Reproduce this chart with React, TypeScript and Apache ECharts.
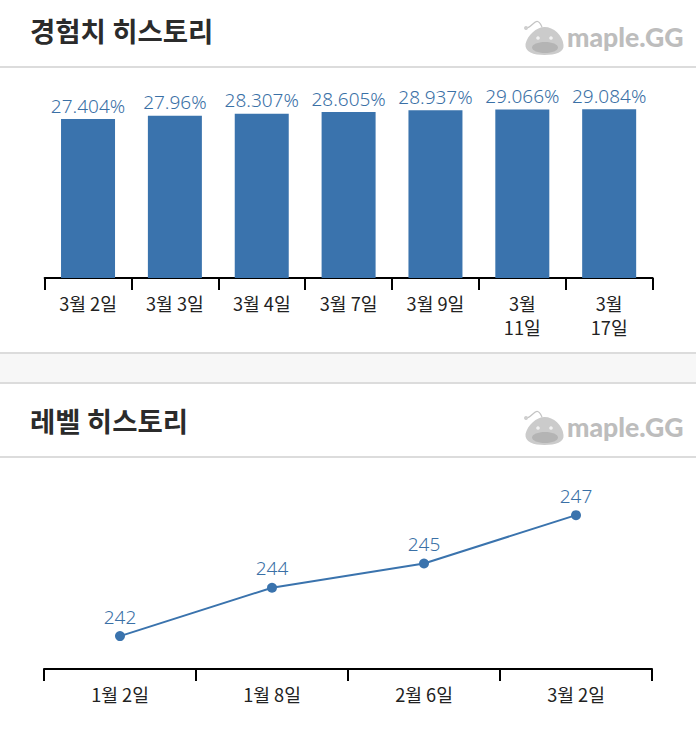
import React, { useEffect, useRef } from "react";
import * as echarts from "echarts";

const expCategories = ["3월 2일", "3월 3일", "3월 4일", "3월 7일", "3월 9일", "3월\n11일", "3월\n17일"];
const expValues = [27.404, 27.96, 28.307, 28.605, 28.937, 29.066, 29.084];
const levelCategories = ["1월 2일", "1월 8일", "2월 6일", "3월 2일"];
const levelValues = [242, 244, 245, 247];
const titles = ["경험치 히스토리", "레벨 히스토리"];
const logoText = "maple.GG";

echarts.graphic.registerShape(
  "slimeBody",
  echarts.graphic.extendPath(
    "M 0 18 C 2 9 11 1 19 1 C 28 1 37 9 38 19 C 39 26 30 29 19 29 C 8 29 -1 26 0 18 Z",
    {}
  )
);

const BLUE = "#3a73ad";
const LABEL_BLUE = "#3a70a6";
const LINE_GREY = "#dcdcdc";

function logo(dy: number) {
  return {
    type: "group",
    x: 0,
    y: dy,
    children: [
      { type: "slimeBody", x: 525.5, y: 26, style: { fill: "#cbcbcb" } },
      { type: "ellipse", shape: { cx: 545, cy: 47.5, rx: 13, ry: 5.5 }, style: { fill: "#b4b4b4" } },
      { type: "circle", shape: { cx: 538, cy: 38, r: 1.8 }, style: { fill: "#f2f2f2" } },
      { type: "circle", shape: { cx: 551, cy: 38, r: 1.8 }, style: { fill: "#f2f2f2" } },
      {
        type: "bezierCurve",
        shape: { x1: 526, y1: 28, x2: 542, y2: 27, cpx1: 533, cpy1: 28, cpx2: 536, cpy2: 14 },
        style: { stroke: "#c4c4c4", lineWidth: 1.2, fill: "none" },
      },
      { type: "circle", shape: { cx: 526, cy: 28, r: 2 }, style: { fill: "#cfcfcf" } },
      {
        type: "text",
        x: 567,
        y: 23,
        style: { text: logoText, fill: "#bdbdbd", font: '900 26.6px "Lato"' },
      },
    ],
  };
}

function title(text: string, y: number) {
  return {
    type: "text",
    x: 30,
    y,
    style: { text, fill: "#2b2b2b", font: '700 27.5px "Noto Sans CJK KR"' },
  };
}

function hr(y: number) {
  return {
    type: "rect",
    shape: { x: 0, y, width: 696, height: 2 },
    style: { fill: LINE_GREY },
  };
}

const axisCommon = {
  type: "category" as const,
  axisLine: { lineStyle: { color: "#000", width: 2 } },
  axisTick: { show: true, alignWithLabel: false, length: 12, lineStyle: { color: "#000", width: 2 } },
  axisLabel: {
    color: "#222",
    fontSize: 18.2,
    lineHeight: 24,
    margin: 13,
    interval: 0,
    fontFamily: '"Noto Sans CJK KR"',
    hideOverlap: false,
  },
};

export default function App() {
  const ref = useRef<HTMLDivElement>(null);
  useEffect(() => {
    const chart = echarts.init(ref.current!, null, { renderer: "svg" });
    chart.setOption({
      animation: false,
      backgroundColor: "#ffffff",
      grid: [
        { left: 44.6, width: 608, top: 69.2, height: 208.8 },
        { left: 44, width: 608, top: 459, height: 210 },
      ],
      xAxis: [
        { ...axisCommon, gridIndex: 0, data: expCategories },
        { ...axisCommon, gridIndex: 1, data: levelCategories },
      ],
      yAxis: [
        { type: "value", gridIndex: 0, min: 0, max: 36, show: false },
        { type: "value", gridIndex: 1, min: 240.64, max: 249.32, show: false },
      ],
      series: [
        {
          type: "bar",
          xAxisIndex: 0,
          yAxisIndex: 0,
          data: expValues,
          barWidth: 54,
          itemStyle: { color: BLUE },
          label: {
            show: true,
            position: "top",
            distance: 4,
            color: LABEL_BLUE,
            fontSize: 19,
            fontWeight: 300,
            fontFamily: '"Noto Sans"',
            formatter: (p: any) => `${p.value}%`,
          },
        },
        {
          type: "line",
          xAxisIndex: 1,
          yAxisIndex: 1,
          data: levelValues,
          symbol: "circle",
          symbolSize: 10,
          lineStyle: { color: BLUE, width: 2 },
          itemStyle: { color: BLUE },
          label: {
            show: true,
            position: "top",
            distance: 5,
            color: LABEL_BLUE,
            fontSize: 19,
            fontWeight: 300,
            fontFamily: '"Noto Sans"',
          },
        },
      ],
      graphic: [
        { type: "rect", shape: { x: 0, y: 353, width: 696, height: 30 }, style: { fill: "#f7f7f7" } },
        hr(66),
        hr(352),
        hr(382),
        hr(456),
        title(titles[0], 16),
        title(titles[1], 406),
        logo(0),
        logo(390),
      ],
    });
    return () => chart.dispose();
  }, []);
  return <div ref={ref} style={{ position: "absolute", left: 0, top: 0, width: 696, height: 737 }} />;
}
